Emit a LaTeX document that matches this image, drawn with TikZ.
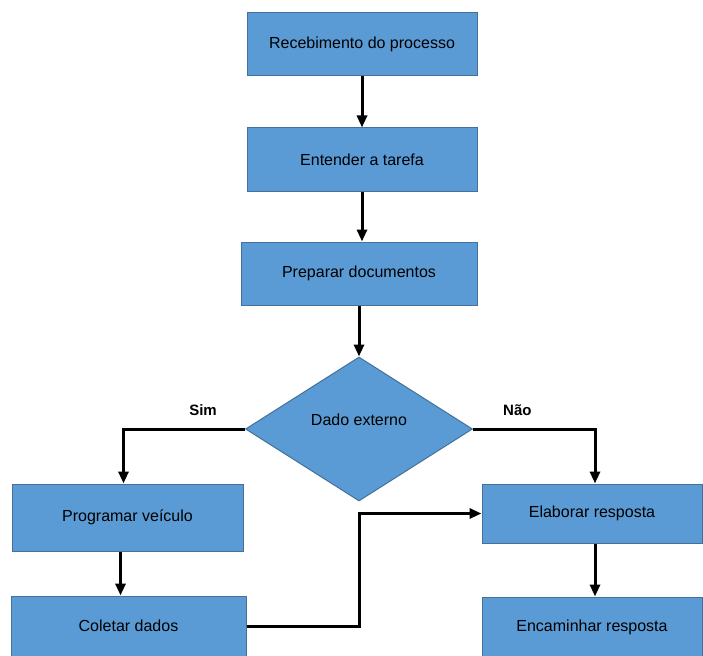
\documentclass[tikz,border=0pt]{standalone}
\usepackage{fontspec}
\setmainfont{Liberation Sans}
\usepackage{xcolor}
\usepackage{tikz}
\usetikzlibrary{arrows.meta, positioning, shapes.geometric}
\definecolor{boxfill}{RGB}{91,155,213}
\definecolor{boxline}{RGB}{65,113,156}

\begin{document}
\begin{tikzpicture}[
  x=1pt, y=-1pt,
  txt/.style={font=\fontsize{16}{19}\selectfont},
  box/.style={draw=boxline, fill=boxfill, line width=1pt, txt,
              minimum width=230pt, minimum height=63pt, inner sep=0pt},
  dec/.style={diamond, draw=boxline, fill=boxfill, line width=1pt,
              minimum width=227pt, minimum height=144pt, inner sep=0pt},
  lbl/.style={font=\bfseries\fontsize{15}{18}\selectfont, inner sep=0pt},
  arr/.style={-{Triangle[length=12pt,width=10pt]}, line width=3pt}
]
\useasboundingbox (0,0) rectangle (703,655);
\node[box] (rec) at (362,44.5) {Recebimento do processo};
\node[box, below=51pt of rec] (ent) {Entender a tarefa};
\node[box, minimum width=236pt, below=50pt of ent, xshift=-3pt] (prep) {Preparar documentos};
\node[dec, below=51pt of prep, label={[txt, yshift=9pt]center:Dado externo}] (dado) {};
\node[box, minimum width=231pt, minimum height=67pt] (prog) at (127.5,517.5) {Programar veículo};
\node[box, minimum width=235pt, minimum height=60pt] (colet) at (128.5,626) {Coletar dados};
\node[box, minimum width=220pt, minimum height=59pt] (elab) at (592,513.5) {Elaborar resposta};
\node[box, minimum width=220pt, minimum height=60pt] (enc) at (592,627) {Encaminhar resposta};
\node[lbl, above left=13pt and 28pt of dado.west] (sim) {Sim};
\node[lbl, above right=13pt and 30pt of dado.east] (nao) {Não};

\draw[arr] (rec) -- (ent);
\draw[arr] (ent.south) -- (ent.south |- prep.north);
\draw[arr] (prep) -- (dado);
\draw[arr] (dado.west) -| ([xshift=-4pt]prog.north);
\draw[arr] (dado.east) -| ([xshift=3pt]elab.north);
\draw[arr] ([xshift=-7pt]prog.south) -- ([xshift=-7pt]prog.south |- colet.north);
\draw[arr] ([xshift=3pt]elab.south) -- ([xshift=3pt]enc.north);
\draw[arr] (colet.east) -- (colet.east -| dado.south) -- (elab.west -| dado.south) -- (elab.west);
\end{tikzpicture}
\end{document}
